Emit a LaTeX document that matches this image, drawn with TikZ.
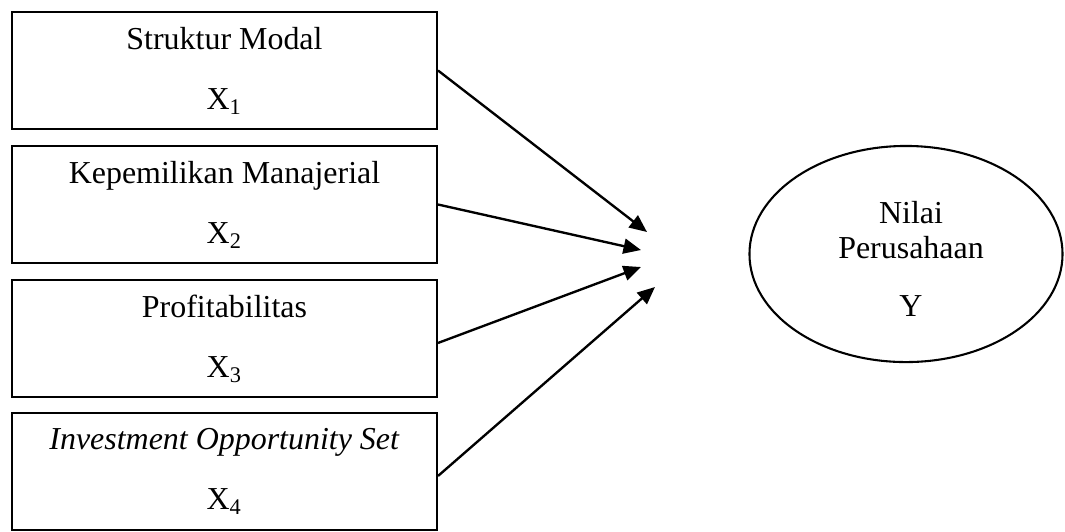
\documentclass[tikz,border=0pt]{standalone}
\usepackage{fontspec}
\setmainfont{Liberation Serif}
\usetikzlibrary{arrows.meta,shapes.geometric}

\tikzset{
  varbox/.style={draw, rectangle, line width=0.75pt, minimum width=153pt, minimum height=42.1pt,
    align=center, inner sep=0pt, font=\fontsize{11.5}{13.8}\selectfont},
  varell/.style={draw, ellipse, line width=0.75pt, minimum width=112.7pt, minimum height=77.8pt,
    inner sep=0pt},
  vartext/.style={align=center, inner sep=0pt, font=\fontsize{11.5}{12.6}\selectfont},
  link/.style={-{Triangle[length=6.3pt,width=5.4pt]}, line width=0.85pt}
}

\begin{document}
\begin{tikzpicture}[x=0.36pt, y=-0.36pt]
        \useasboundingbox (0,0) rectangle (1065,531);

        % Independent variables
        \node[varbox] (x1) at (224.5,70.5) {Struktur Modal\\[7.8pt]X\textsubscript{1}};
        \node[varbox] (x2) at (224.5,204.5) {Kepemilikan Manajerial\\[7.8pt]X\textsubscript{2}};
        \node[varbox] (x3) at (224.5,338.5) {Profitabilitas\\[7.8pt]X\textsubscript{3}};
        \node[varbox] (x4) at (224.5,471.5) {\textit{Investment Opportunity Set}\\[7.8pt]X\textsubscript{4}};

        % Dependent variable
        \node[varell] (y) at (906,254) {};
        \node[vartext] (ylab) at (911,259) {Nilai\\Perusahaan\\[8.3pt]Y};

        % Arrow ends
        \coordinate (t1) at (647,232);
        \coordinate (t2) at (641,250);
        \coordinate (t3) at (641,267);
        \coordinate (t4) at (655,287);

        \draw[link] (x1.east) -- (t1);
        \draw[link] (x2.east) -- (t2);
        \draw[link] ([yshift=-1.6pt]x3.east) -- (t3);
        \draw[link] ([yshift=-1.6pt]x4.east) -- (t4);
    \end{tikzpicture}
\end{document}
